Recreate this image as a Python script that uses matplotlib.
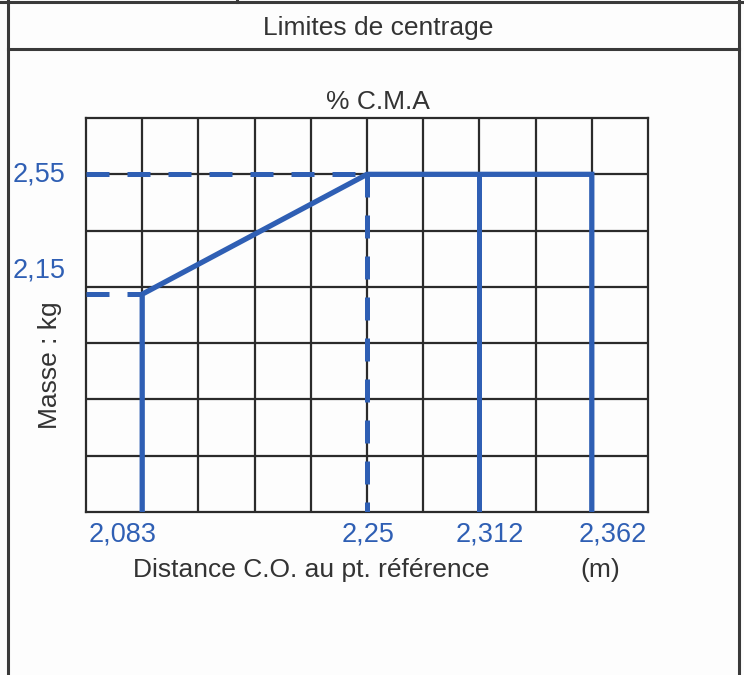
import matplotlib
matplotlib.use("Agg")
import matplotlib.pyplot as plt
import numpy as np

plt.rcParams['font.family'] = ['Liberation Sans', 'DejaVu Sans']

title = "Limites de centrage"
top_label = "% C.M.A"
x_label = "Distance C.O. au pt. référence"
x_unit = "(m)"
y_label = "Masse : kg"

dist_ticks = [2.083, 2.25, 2.312, 2.362]      # m
dist_tick_labels = ["2,083", "2,25", "2,312", "2,362"]
mass_ticks = [2.15, 2.55]                      # kg
mass_tick_labels = ["2,15", "2,55"]

# envelope of the centring limits (distance, mass)
env_dist = [2.083, 2.083, 2.25, 2.362, 2.362]
env_mass = [None, 2.15, 2.55, 2.55, None]     # None -> bottom of chart
aft_limit = 2.312                              # extra vertical limit

blue = '#2f5fb4'
ink = '#2b2b2b'
txt = '#333333'

# the printed grid is not linear in distance: each tick sits on a grid column
grid_cols = np.array([1, 5, 7, 9])
xv = np.array(dist_ticks)


def to_grid(x):
    x = np.asarray(x, dtype=float)
    g = np.interp(x, xv, grid_cols)
    ls = (grid_cols[1] - grid_cols[0]) / (xv[1] - xv[0])
    rs = (grid_cols[-1] - grid_cols[-2]) / (xv[-1] - xv[-2])
    g = np.where(x < xv[0], grid_cols[0] + (x - xv[0]) * ls, g)
    g = np.where(x > xv[-1], grid_cols[-1] + (x - xv[-1]) * rs, g)
    return g


def from_grid(g):
    g = np.asarray(g, dtype=float)
    x = np.interp(g, grid_cols, xv)
    ls = (xv[1] - xv[0]) / (grid_cols[1] - grid_cols[0])
    rs = (xv[-1] - xv[-2]) / (grid_cols[-1] - grid_cols[-2])
    x = np.where(g < grid_cols[0], xv[0] + (g - grid_cols[0]) * ls, x)
    x = np.where(g > grid_cols[-1], xv[-1] + (g - grid_cols[-1]) * rs, x)
    return x


fig = plt.figure(figsize=(7.44, 6.75), dpi=100)
fig.patch.set_facecolor('#fdfdfd')

# ---- form frame ----
W, H = 744.0, 675.0
def fx(px): return px / W
def fy(py): return 1 - py / H

frame_kw = dict(color='#3a3a3a', lw=2.2, transform=fig.transFigure)
fig.add_artist(plt.Line2D([0, 1], [fy(1.5), fy(1.5)], **frame_kw))
fig.add_artist(plt.Line2D([fx(8), fx(739)], [fy(49), fy(49)], **frame_kw))
fig.add_artist(plt.Line2D([fx(8), fx(8)], [fy(0), fy(675)], **frame_kw))
fig.add_artist(plt.Line2D([fx(739), fx(739)], [fy(0), fy(675)], **frame_kw))
fig.add_artist(plt.Line2D([fx(237), fx(237)], [fy(0), fy(2)], **frame_kw))

fig.text(fx(378), fy(28), title, ha='center', va='center', fontsize=19, color=txt)
fig.text(fx(378), fy(102), top_label, ha='center', va='center', fontsize=19, color=txt)

# ---- chart ----
ax = fig.add_axes([fx(86), fy(512), fx(648) - fx(86), fy(118) - fy(512)])
ax.set_facecolor('none')
ax.set_xscale('function', functions=(to_grid, from_grid))
xlim = from_grid([0, 10])
ax.set_xlim(*xlim)
ax.set_ylim(1.423, 2.738)
ax.set_xticks([])
ax.set_yticks([])
ax.xaxis.set_minor_locator(plt.NullLocator())
ax.yaxis.set_minor_locator(plt.NullLocator())
for s in ax.spines.values():
    s.set_linewidth(1.6)
    s.set_color(ink)

for k in range(1, 10):
    ax.plot([k / 10, k / 10], [0, 1], color=ink, lw=1.6, transform=ax.transAxes, zorder=1)
for k in range(1, 7):
    ax.plot([0, 1], [k / 7, k / 7], color=ink, lw=1.6, transform=ax.transAxes, zorder=1)

ybot = ax.get_ylim()[0]
dash = (0, (4.6, 3.6))

# dashed reference lines
ax.plot([xlim[0], dist_ticks[0]], [mass_ticks[0]] * 2, color=blue, lw=3.6, ls=dash, zorder=3)
ax.plot([xlim[0], dist_ticks[1]], [mass_ticks[1]] * 2, color=blue, lw=3.6, ls=dash, zorder=3)
ax.plot([dist_ticks[1]] * 2, [mass_ticks[1], ybot], color=blue, lw=3.6, ls=dash, zorder=3)

# solid envelope
em = [ybot if m is None else m for m in env_mass]
ax.plot(env_dist, em, color=blue, lw=3.8, solid_joinstyle='miter', zorder=4)
ax.plot([aft_limit, aft_limit], [mass_ticks[1], ybot], color=blue, lw=3.6, zorder=4)

# tick labels (as printed on the form, slightly offset from their lines)
x_off = [-14.4, 0.7, 7.2, 15.0]
for v, lab, dx in zip(dist_ticks, dist_tick_labels, x_off):
    ax.annotate(lab, xy=(v, 0), xycoords=('data', 'axes fraction'),
                xytext=(dx, -16.5), textcoords='offset points',
                ha='center', va='center', fontsize=19.5, color=blue)

y_off = [17.0, 0.0]
for v, lab, dy in zip(mass_ticks, mass_tick_labels, y_off):
    ax.annotate(lab, xy=(0, v), xycoords=('axes fraction', 'data'),
                xytext=(-15, dy), textcoords='offset points',
                ha='right', va='center', fontsize=19.5, color=blue)

fig.text(fx(311), fy(570), x_label, ha='center', va='center', fontsize=19, color=txt)
fig.text(fx(600), fy(570), x_unit, ha='center', va='center', fontsize=19, color=txt)
fig.text(fx(50), fy(365), y_label, ha='center', va='center', rotation=90,
         fontsize=19, color=txt)

fig.savefig('out.png', dpi=100, facecolor=fig.get_facecolor())
